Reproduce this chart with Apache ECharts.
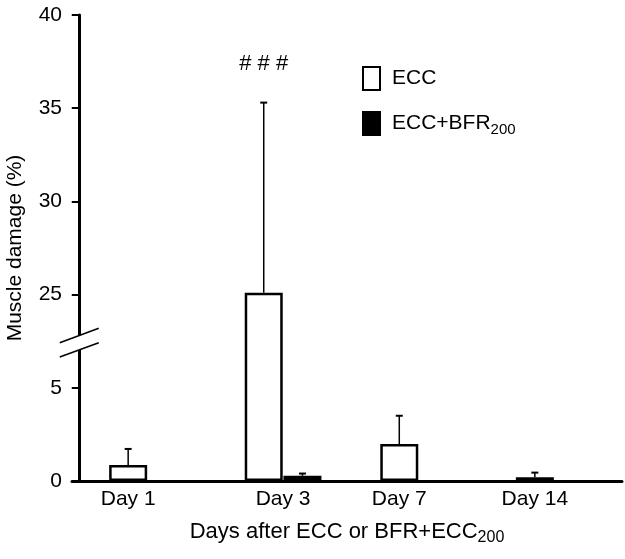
<!DOCTYPE html>
<html>
<head>
<meta charset="utf-8">
<script src="https://cdn.jsdelivr.net/npm/echarts@6/dist/echarts.min.js"></script>
<style>
  html, body { margin: 0; padding: 0; background: #fff; }
  #chart { width: 625px; height: 559px; }
</style>
</head>
<body>
<div id="chart"></div>
<script>
// categories and their positions along the x axis (in bar widths)
const days = ['Day 1', 'Day 3', 'Day 7', 'Day 14'];
const dayPos = [1.25, 5.25, 8.25, 11.75];

// ECC series
const eccPos = [1.25, 4.75, 8.25, 11.75];
const eccMean = [0.86, 25.1, 1.98, 0.2];
const eccErr = [0.86, 10.2, 1.52, 0.25];

// ECC+BFR200 series (only Day 3 visible)
const bfrPos = [null, 5.75, null, null];
const bfrMean = [null, 0.28, null, null];
const bfrErr = [null, 0.12, null, null];

// significance marks
const sigText = ['', '# # #', '', ''];
const sigLevel = 37.4;

// broken y axis: 5..25 gap collapsed
const breakAt = 7.5;
const breakShift = 15;
function toAxis(v) { return v > breakAt ? v - breakShift : v; }
function fromAxis(v) { return v > breakAt ? v + breakShift : v; }

const font = 'Liberation Sans, Arial, sans-serif';

const eccData = eccPos.map((x, i) => [x, toAxis(eccMean[i])]);
const bfrData = [];
bfrPos.forEach((x, i) => { if (x != null) bfrData.push([x, toAxis(bfrMean[i])]); });

const errData = [];
eccPos.forEach((x, i) => errData.push([x, toAxis(eccMean[i]), toAxis(eccMean[i] + eccErr[i])]));
bfrPos.forEach((x, i) => { if (x != null) errData.push([x, toAxis(bfrMean[i]), toAxis(bfrMean[i] + bfrErr[i])]); });

const sigData = [];
sigText.forEach((t, i) => { if (t) sigData.push([eccPos[i], toAxis(sigLevel), t]); });

const chart = echarts.init(document.getElementById('chart'));

const option = {
  backgroundColor: '#fff',
  animation: false,
  textStyle: { fontFamily: font, color: '#000' },
  grid: { left: 72, right: 3, top: 15, bottom: 78, outerBoundsMode: 'none', containLabel: false },
  legend: {
    orient: 'vertical',
    left: 362,
    top: 66,
    padding: 0,
    itemWidth: 17,
    itemHeight: 23,
    itemGap: 20,
    icon: 'rect',
    data: ['ECC', 'ECC+BFR200'],
    formatter: (name) => name === 'ECC+BFR200' ? '{a|ECC+BFR}{s|200}' : '{a|' + name + '}',
    textStyle: {
      fontFamily: font,
      color: '#000',
      padding: [0, 0, 0, 7],
      rich: {
        a: { fontSize: 21, fontFamily: font, color: '#000' },
        s: { fontSize: 15, fontFamily: font, color: '#000', padding: [12, 0, 0, 0] }
      }
    }
  },
  xAxis: {
    type: 'value',
    min: -0.2,
    max: 14,
    splitLine: { show: false },
    axisTick: { show: false },
    axisLine: { lineStyle: { color: '#000', width: 3 } },
    axisLabel: {
      customValues: dayPos,
      fontSize: 21,
      fontFamily: font,
      color: '#000',
      margin: 8,
      formatter: (v) => {
        const i = dayPos.indexOf(v);
        return i >= 0 ? days[i] : '';
      }
    },
    name: '{a|Days after ECC or BFR+ECC}{s|200}',
    nameLocation: 'middle',
    nameGap: 37,
    nameTextStyle: {
      rich: {
        a: { fontSize: 22, fontFamily: font, color: '#000' },
        s: { fontSize: 16, fontFamily: font, color: '#000', padding: [12, 0, 0, 0] }
      }
    }
  },
  yAxis: {
    type: 'value',
    min: 0,
    max: 25,
    interval: 5,
    splitLine: { show: false },
    axisLine: { show: true, lineStyle: { color: '#000', width: 3 } },
    axisTick: { show: true, length: 8, lineStyle: { color: '#000', width: 2 } },
    axisLabel: {
      fontSize: 21,
      fontFamily: font,
      color: '#000',
      margin: 10,
      formatter: (v) => String(fromAxis(v))
    },
    name: 'Muscle damage (%)',
    nameLocation: 'middle',
    nameGap: 46,
    nameTextStyle: { fontSize: 21, fontFamily: font, color: '#000' }
  },
  series: [
    {
      name: 'ECC',
      type: 'bar',
      data: eccData,
      barWidth: 38,
      barGap: '-100%',
      itemStyle: { color: '#fff', borderColor: '#000', borderWidth: 2.5 },
      z: 3
    },
    {
      name: 'ECC+BFR200',
      type: 'bar',
      data: bfrData,
      barWidth: 38,
      barGap: '-100%',
      itemStyle: { color: '#000', borderColor: '#000', borderWidth: 2.5 },
      z: 3
    },
    {
      name: 'err',
      type: 'custom',
      data: errData,
      encode: { x: 0, y: [1, 2] },
      z: 4,
      renderItem: (params, api) => {
        const base = api.coord([api.value(0), api.value(1)]);
        const top = api.coord([api.value(0), api.value(2)]);
        const cap = 3.5;
        return {
          type: 'group',
          children: [
            { type: 'line', shape: { x1: base[0], y1: base[1], x2: top[0], y2: top[1] },
              style: { stroke: '#000', lineWidth: 1.5 } },
            { type: 'line', shape: { x1: top[0] - cap, y1: top[1], x2: top[0] + cap, y2: top[1] },
              style: { stroke: '#000', lineWidth: 2 } }
          ]
        };
      }
    },
    {
      name: 'sig',
      type: 'custom',
      data: sigData,
      encode: { x: 0, y: 1 },
      renderItem: (params, api) => {
        const p = api.coord([api.value(0), api.value(1)]);
        return {
          type: 'text',
          style: {
            x: p[0], y: p[1],
            text: sigData[params.dataIndex][2],
            fontSize: 22,
            fontFamily: font,
            fill: '#000',
            align: 'center',
            verticalAlign: 'middle'
          }
        };
      }
    }
  ]
};

chart.setOption(option);

// axis break marks drawn at the collapsed gap
const c = chart.convertToPixel({ gridIndex: 0 }, [0, 7.42]);
chart.setOption({
  graphic: [
    {
      type: 'polygon',
      shape: { points: [[c[0] - 20, c[1]], [c[0] + 19, c[1] - 14.4], [c[0] + 19, c[1]], [c[0] - 20, c[1] + 14.3]] },
      style: { fill: '#fff' },
      z: 100
    },
    {
      type: 'line',
      shape: { x1: c[0] - 20, y1: c[1], x2: c[0] + 19, y2: c[1] - 14.4 },
      style: { stroke: '#000', lineWidth: 1.5 },
      z: 101
    },
    {
      type: 'line',
      shape: { x1: c[0] - 20, y1: c[1] + 14.3, x2: c[0] + 19, y2: c[1] },
      style: { stroke: '#000', lineWidth: 1.5 },
      z: 101
    }
  ]
});
</script>
</body>
</html>
